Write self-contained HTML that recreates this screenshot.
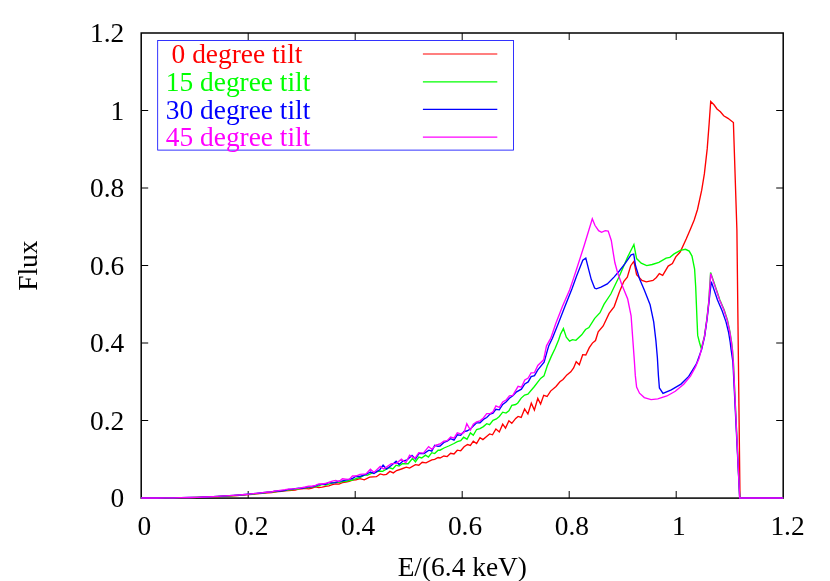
<!DOCTYPE html>
<html><head><meta charset="utf-8"><title>Flux</title>
<style>
html,body{margin:0;padding:0;background:#fff}
svg{display:block;will-change:transform}
text{font-family:"Liberation Serif",serif;font-size:27.4px}
</style></head><body>
<svg width="830" height="581" viewBox="0 0 830 581">
<rect width="830" height="581" fill="#fff"/>
<path d="M248.2 498.0V491.0M248.2 33.0V40.0M141.2 420.5H148.2M783.2 420.5H776.2M355.2 498.0V491.0M355.2 33.0V40.0M141.2 343.0H148.2M783.2 343.0H776.2M462.2 498.0V491.0M462.2 33.0V40.0M141.2 265.5H148.2M783.2 265.5H776.2M569.2 498.0V491.0M569.2 33.0V40.0M141.2 188.0H148.2M783.2 188.0H776.2M676.2 498.0V491.0M676.2 33.0V40.0M141.2 110.5H148.2M783.2 110.5H776.2" stroke="#000" stroke-width="1" fill="none"/>
<rect x="141.2" y="33.0" width="642.0" height="465.1" fill="none" stroke="#000" stroke-width="1.5"/>
<rect x="157.7" y="40.5" width="355.8" height="109.6" fill="none" stroke="#0000ff" stroke-width="0.8"/>
<polyline points="141.2,498.0 149.2,498.0 157.2,498.0 165.2,497.9 173.2,497.9 181.2,497.7 189.2,497.6 197.2,497.4 205.2,497.1 213.2,496.8 221.2,496.4 229.2,496.0 237.2,495.5 245.2,494.9 248.5,494.7 264.8,493.1 268.2,492.8 271.5,492.7 274.9,492.1 278.3,491.7 281.7,491.4 285.0,490.8 288.4,490.6 291.8,490.3 295.2,490.1 298.5,489.1 301.9,488.9 305.3,488.3 308.7,488.8 312.0,488.2 315.4,486.9 318.8,487.5 322.2,487.1 325.5,486.3 328.9,485.9 332.3,484.7 335.7,483.9 339.0,484.1 342.4,482.6 345.8,482.0 349.2,481.3 352.5,480.0 355.9,479.8 360.0,478.7 364.3,479.9 369.6,477.2 376.4,476.7 380.2,473.9 383.6,474.8 386.5,474.3 389.9,471.4 393.3,472.9 396.6,470.5 401.4,469.0 406.3,467.1 409.6,468.1 415.4,464.7 418.8,465.2 422.2,462.3 426.0,462.8 431.8,459.9 434.7,459.4 438.1,457.5 440.0,458.0 443.9,456.0 447.2,456.6 450.6,453.3 454.0,454.0 457.3,450.2 460.7,450.8 464.1,446.8 467.5,444.5 470.4,445.4 473.3,441.1 476.6,443.5 480.0,437.7 482.9,439.6 486.3,436.7 489.6,433.9 492.5,434.8 495.9,429.0 499.3,431.9 502.7,424.2 505.5,428.1 508.9,420.8 511.8,423.3 515.7,418.4 518.1,416.4 521.2,417.4 524.6,408.9 527.9,414.0 531.3,403.2 534.4,410.0 537.8,398.4 540.6,404.0 543.7,395.3 547.1,396.5 550.6,391.1 556.0,386.5 559.9,381.8 563.0,379.5 566.9,374.9 570.8,371.8 573.6,367.9 576.2,361.7 579.3,364.8 582.7,354.7 585.8,355.0 589.3,347.7 592.4,343.1 595.5,340.5 598.2,331.9 603.2,326.0 609.1,313.4 614.2,306.6 619.3,292.3 623.9,281.3 627.3,277.1 630.7,265.7 633.9,261.3 636.6,274.6 642.0,280.5 646.3,281.9 653.0,280.5 656.4,277.5 659.3,273.7 662.7,275.4 668.2,266.1 672.4,263.6 675.8,256.9 680.3,251.8 686.3,238.8 690.6,228.7 694.2,220.0 697.5,209.5 701.7,190.2 704.4,173.7 707.2,148.9 709.1,124.1 710.7,101.5 714.0,104.8 717.0,109.0 720.4,111.8 723.7,115.8 728.0,118.3 733.4,122.5 736.9,230.0 740.0,498.0 783.2,498.0" fill="none" stroke="#ff0000" stroke-width="1.35" stroke-linejoin="miter" stroke-linecap="butt"/>
<polyline points="141.2,498.0 149.2,498.0 157.2,498.0 165.2,497.9 173.2,497.8 181.2,497.7 189.2,497.6 197.2,497.3 205.2,497.1 213.2,496.7 221.2,496.3 229.2,495.8 237.2,495.3 245.2,494.7 248.5,494.4 264.8,492.9 268.2,492.2 271.5,491.8 274.9,491.9 278.3,491.1 281.7,490.6 285.0,490.6 288.4,489.9 291.8,489.9 295.2,488.8 298.5,489.1 301.9,487.9 305.3,487.8 308.7,487.7 312.0,486.9 315.4,486.6 318.8,485.8 322.2,484.4 325.5,485.0 328.9,484.1 332.3,483.1 335.7,482.2 339.0,482.6 342.4,481.5 345.8,481.4 349.2,480.5 352.5,480.1 355.9,478.6 360.0,477.5 364.8,474.8 367.2,475.3 372.5,472.9 379.3,471.0 382.7,471.4 388.9,467.6 392.8,469.0 396.1,465.2 399.0,466.1 402.4,463.7 408.2,463.7 412.5,458.4 415.4,461.8 418.8,457.0 421.7,458.0 425.5,455.1 428.4,457.0 431.8,452.7 434.7,453.6 438.1,450.2 440.0,450.2 444.0,448.0 448.7,446.0 454.0,443.5 457.3,441.6 460.7,440.6 463.6,437.2 467.0,439.2 470.4,432.9 473.3,435.3 476.6,429.5 480.0,428.6 483.4,426.6 486.7,423.7 489.6,424.7 493.0,420.4 496.4,418.9 499.3,416.5 502.7,412.2 506.0,413.1 508.9,410.7 511.8,405.4 515.7,404.5 517.8,403.0 521.2,398.1 524.6,395.0 527.9,394.2 534.4,386.5 540.6,378.4 544.0,375.9 547.3,365.8 551.3,356.4 555.2,348.2 558.6,340.0 560.5,334.3 563.4,328.6 566.3,337.2 569.6,341.1 572.5,339.6 575.9,340.3 581.7,334.8 585.5,329.5 588.9,327.6 594.7,318.4 600.0,312.7 604.1,304.1 610.8,294.0 619.3,276.3 627.7,256.9 633.9,244.5 636.6,258.6 641.2,263.2 646.7,265.6 652.2,264.5 658.9,262.3 666.1,258.1 669.9,257.3 674.1,253.9 680.3,250.3 685.5,249.3 689.2,251.1 692.0,256.1 694.6,269.2 695.7,287.0 696.4,304.5 697.1,321.8 697.7,335.4 699.4,342.2 701.3,348.6 704.4,336.3 706.9,318.6 708.7,302.0 710.6,272.5 719.9,300.0 724.2,310.1 727.5,320.2 730.0,332.0 731.6,342.2 732.4,349.0 733.4,362.0 739.7,498.0 783.2,498.0" fill="none" stroke="#00ff00" stroke-width="1.35" stroke-linejoin="miter" stroke-linecap="butt"/>
<polyline points="141.2,498.0 149.2,498.0 157.2,498.0 165.2,497.9 173.2,497.8 181.2,497.7 189.2,497.5 197.2,497.3 205.2,497.0 213.2,496.6 221.2,496.2 229.2,495.7 237.2,495.1 245.2,494.5 248.5,494.2 264.8,492.5 268.2,492.2 271.5,491.9 274.9,491.2 278.3,491.0 281.7,490.8 285.0,490.4 288.4,489.3 291.8,489.2 295.2,488.7 298.5,488.1 301.9,488.3 305.3,487.6 308.7,486.7 312.0,486.7 315.4,485.8 318.8,484.6 322.2,484.1 325.5,484.2 328.9,482.5 332.3,482.8 335.7,482.7 339.0,481.2 342.4,480.9 345.8,480.1 349.2,479.3 352.5,478.5 355.9,476.3 360.0,476.5 366.0,474.5 370.4,472.0 374.0,473.4 380.0,469.5 383.1,465.2 386.5,469.0 391.3,465.5 396.1,461.3 399.0,464.5 403.0,461.0 407.0,460.0 412.0,455.5 415.5,459.0 419.0,453.5 424.0,453.6 428.9,450.2 431.8,451.2 434.7,445.4 438.0,446.4 440.0,446.0 443.9,442.5 447.2,441.1 450.6,438.7 454.0,440.1 457.3,434.8 460.7,435.3 464.1,431.4 466.8,431.0 470.4,429.0 473.3,426.1 476.6,422.8 480.0,422.8 483.4,419.4 486.7,417.5 490.1,414.1 493.0,413.1 495.9,409.3 499.3,409.8 502.7,404.5 506.0,402.0 509.4,398.2 512.8,395.8 516.6,391.9 521.4,389.2 524.8,383.9 528.2,381.9 531.1,376.6 534.5,375.7 537.8,369.9 544.1,362.2 547.5,350.1 548.7,346.0 552.4,338.2 558.2,323.7 564.9,306.4 571.9,289.0 576.5,276.3 582.8,260.2 585.8,258.1 588.9,270.3 591.3,279.6 594.6,288.1 596.3,288.8 601.0,287.2 607.3,283.9 614.0,277.1 619.1,271.2 625.0,263.6 631.1,254.8 633.7,254.0 635.5,265.5 639.5,278.8 644.4,290.3 650.1,304.8 653.7,321.8 655.9,340.6 657.4,358.0 658.4,375.4 659.4,388.0 663.0,393.3 671.3,389.9 681.0,384.1 688.7,376.4 696.4,363.9 701.6,349.6 704.6,336.6 707.1,318.8 709.0,302.0 711.3,281.7 717.5,300.0 722.2,311.0 726.0,321.9 728.5,332.0 730.2,342.2 731.0,349.0 732.9,362.0 739.7,498.0 783.2,498.0" fill="none" stroke="#0000ff" stroke-width="1.35" stroke-linejoin="miter" stroke-linecap="butt"/>
<polyline points="141.2,498.0 149.2,498.0 157.2,498.0 165.2,497.9 173.2,497.8 181.2,497.7 189.2,497.5 197.2,497.3 205.2,497.0 213.2,496.6 221.2,496.2 229.2,495.7 237.2,495.1 245.2,494.5 248.5,494.2 264.8,492.3 268.2,492.0 271.5,491.8 274.9,491.0 278.3,490.6 281.7,490.1 285.0,489.7 288.4,489.1 291.8,488.8 295.2,488.6 298.5,488.3 301.9,487.6 305.3,487.0 308.7,486.1 312.0,486.2 315.4,485.4 318.8,484.0 322.2,484.0 325.5,483.3 328.9,482.5 332.3,481.2 335.7,480.4 339.0,481.5 342.4,478.8 345.8,479.1 349.2,479.4 352.5,476.0 355.9,476.0 360.0,474.3 366.0,473.9 370.4,469.3 374.0,472.4 380.2,466.4 383.6,469.0 391.3,463.7 396.4,463.3 401.4,459.2 405.8,462.8 409.6,455.3 414.9,458.4 418.8,452.7 423.4,453.1 428.6,446.6 431.8,449.3 436.0,445.0 438.1,444.5 440.0,444.0 443.9,441.1 447.2,440.6 450.6,437.0 454.0,438.2 457.3,432.9 460.7,433.9 464.1,432.4 466.8,423.7 470.4,430.0 473.3,424.2 476.6,421.8 480.0,420.8 483.4,418.0 486.7,413.6 490.1,413.6 493.0,411.7 495.9,405.9 499.3,407.3 502.7,402.0 506.0,400.1 509.4,395.8 512.8,395.3 518.1,386.3 521.4,387.2 524.8,380.0 528.2,378.1 531.1,372.8 534.5,372.6 537.8,365.5 543.6,359.8 546.5,345.8 550.8,338.2 555.7,323.7 562.4,306.4 569.6,290.0 573.7,277.9 576.3,270.0 584.1,245.8 592.3,218.7 594.9,225.3 598.6,230.7 601.6,232.3 605.2,230.7 608.2,231.1 611.3,240.5 613.2,252.7 614.9,262.8 617.4,272.0 621.6,283.9 627.7,299.0 631.1,315.9 632.7,338.0 634.3,360.0 635.3,375.4 636.6,387.0 639.5,393.2 644.3,397.6 651.1,399.6 657.8,398.8 666.9,396.0 675.3,391.3 683.7,384.2 690.5,376.1 695.5,366.9 699.0,358.5 701.5,349.2 704.5,336.3 707.0,318.6 708.8,302.0 710.7,273.6 719.6,300.0 723.9,310.1 727.2,320.2 729.8,332.0 731.4,342.2 732.3,349.0 733.3,362.0 739.7,498.0 783.2,498.0" fill="none" stroke="#ff00ff" stroke-width="1.35" stroke-linejoin="miter" stroke-linecap="butt"/>
<text x="171.6" y="63.4" fill="#ff0000">0 degree tilt</text>
<path d="M422.9 54.0H497.3" stroke="#ff0000" stroke-width="1.2"/>
<text x="165.8" y="91.0" fill="#00ff00">15 degree tilt</text>
<path d="M422.9 81.8H497.3" stroke="#00ff00" stroke-width="1.2"/>
<text x="165.8" y="118.6" fill="#0000ff">30 degree tilt</text>
<path d="M422.9 109.4H497.3" stroke="#0000ff" stroke-width="1.2"/>
<text x="165.8" y="146.2" fill="#ff00ff">45 degree tilt</text>
<path d="M422.9 137.1H497.3" stroke="#ff00ff" stroke-width="1.2"/>
<text x="124.3" y="507.2" text-anchor="end">0</text>
<text x="144.4" y="534.6" text-anchor="middle">0</text>
<text x="124.3" y="429.7" text-anchor="end">0.2</text>
<text x="251.3" y="534.6" text-anchor="middle">0.2</text>
<text x="124.3" y="352.2" text-anchor="end">0.4</text>
<text x="358.2" y="534.6" text-anchor="middle">0.4</text>
<text x="124.3" y="274.7" text-anchor="end">0.6</text>
<text x="465.0" y="534.6" text-anchor="middle">0.6</text>
<text x="124.3" y="197.2" text-anchor="end">0.8</text>
<text x="571.9" y="534.6" text-anchor="middle">0.8</text>
<text x="124.3" y="119.7" text-anchor="end">1</text>
<text x="678.8" y="534.6" text-anchor="middle">1</text>
<text x="124.3" y="42.1" text-anchor="end">1.2</text>
<text x="787.5" y="534.6" text-anchor="middle">1.2</text>
<text x="462.3" y="576" text-anchor="middle">E/(6.4 keV)</text>
<text transform="translate(37.4,265.7) rotate(-90)" text-anchor="middle">Flux</text>
</svg>
</body></html>
